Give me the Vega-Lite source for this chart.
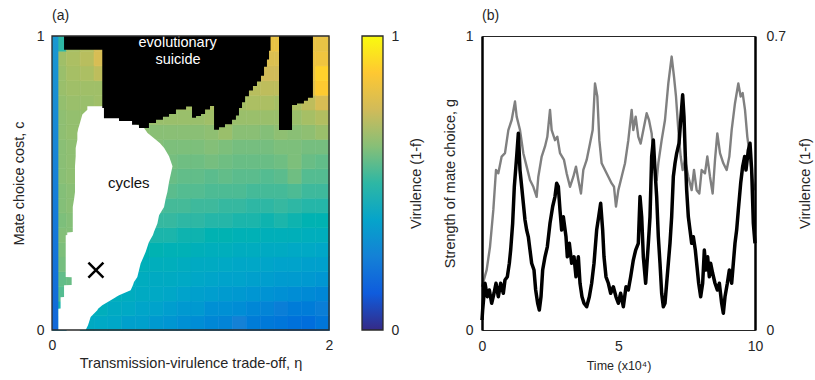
{
"$schema": "https://vega.github.io/schema/vega-lite/v6.json",
"padding": {"left": 11, "top": 8, "right": 2, "bottom": 2},
"config": {
 "font": "Liberation Sans",
 "view": {"stroke": null},
 "axis": {"labelFontSize": 14, "titleFontSize": 14.5, "labelColor": "#262626", "titleColor": "#262626", "titleFontWeight": "normal", "grid": false, "ticks": false, "domain": false, "labelFlush": false},
 "title": {"fontSize": 14, "fontWeight": "normal", "anchor": "start", "frame": "group", "color": "#262626"}
},
"datasets": {
 "cells": [
{"x":0,"y":0,"v":0.35},{"x":0.2,"y":0,"v":0.41},{"x":0.3,"y":0,"v":0.40},{"x":0.4,"y":0,"v":0.39},{"x":0.5,"y":0,"v":0.36},{"x":0.6,"y":0,"v":0.36},{"x":0.7,"y":0,"v":0.33},{"x":0.8,"y":0,"v":0.32},{"x":0.9,"y":0,"v":0.30},{"x":1.0,"y":0,"v":0.29},{"x":1.1,"y":0,"v":0.27},{"x":1.2,"y":0,"v":0.26},{"x":1.3,"y":0,"v":0.25},{"x":1.4,"y":0,"v":0.23},{"x":1.5,"y":0,"v":0.22},{"x":1.6,"y":0,"v":0.21},{"x":1.7,"y":0,"v":0.19},{"x":1.8,"y":0,"v":0.18},{"x":1.9,"y":0,"v":0.21},
{"x":0,"y":0.05,"v":0.48},{"x":0.2,"y":0.05,"v":0.42},{"x":0.3,"y":0.05,"v":0.43},{"x":0.4,"y":0.05,"v":0.41},{"x":0.5,"y":0.05,"v":0.40},{"x":0.6,"y":0.05,"v":0.38},{"x":0.7,"y":0.05,"v":0.37},{"x":0.8,"y":0.05,"v":0.35},{"x":0.9,"y":0.05,"v":0.33},{"x":1.0,"y":0.05,"v":0.33},{"x":1.1,"y":0.05,"v":0.30},{"x":1.2,"y":0.05,"v":0.30},{"x":1.3,"y":0.05,"v":0.29},{"x":1.4,"y":0.05,"v":0.27},{"x":1.5,"y":0.05,"v":0.26},{"x":1.6,"y":0.05,"v":0.24},{"x":1.7,"y":0.05,"v":0.23},{"x":1.8,"y":0.05,"v":0.23},{"x":1.9,"y":0.05,"v":0.24},
{"x":0,"y":0.1,"v":0.55},{"x":0.4,"y":0.1,"v":0.43},{"x":0.5,"y":0.1,"v":0.42},{"x":0.6,"y":0.1,"v":0.41},{"x":0.7,"y":0.1,"v":0.40},{"x":0.8,"y":0.1,"v":0.39},{"x":0.9,"y":0.1,"v":0.37},{"x":1.0,"y":0.1,"v":0.36},{"x":1.1,"y":0.1,"v":0.35},{"x":1.2,"y":0.1,"v":0.34},{"x":1.3,"y":0.1,"v":0.33},{"x":1.4,"y":0.1,"v":0.32},{"x":1.5,"y":0.1,"v":0.31},{"x":1.6,"y":0.1,"v":0.30},{"x":1.7,"y":0.1,"v":0.29},{"x":1.8,"y":0.1,"v":0.28},{"x":1.9,"y":0.1,"v":0.27},
{"x":0,"y":0.15,"v":0.57},{"x":0.1,"y":0.15,"v":0.58},{"x":0.5,"y":0.15,"v":0.43},{"x":0.6,"y":0.15,"v":0.42},{"x":0.7,"y":0.15,"v":0.41},{"x":0.8,"y":0.15,"v":0.41},{"x":0.9,"y":0.15,"v":0.40},{"x":1.0,"y":0.15,"v":0.39},{"x":1.1,"y":0.15,"v":0.38},{"x":1.2,"y":0.15,"v":0.37},{"x":1.3,"y":0.15,"v":0.37},{"x":1.4,"y":0.15,"v":0.36},{"x":1.5,"y":0.15,"v":0.35},{"x":1.6,"y":0.15,"v":0.34},{"x":1.7,"y":0.15,"v":0.34},{"x":1.8,"y":0.15,"v":0.33},{"x":1.9,"y":0.15,"v":0.32},
{"x":0,"y":0.2,"v":0.60},{"x":0.6,"y":0.2,"v":0.44},{"x":0.7,"y":0.2,"v":0.43},{"x":0.8,"y":0.2,"v":0.43},{"x":0.9,"y":0.2,"v":0.42},{"x":1.0,"y":0.2,"v":0.41},{"x":1.1,"y":0.2,"v":0.41},{"x":1.2,"y":0.2,"v":0.40},{"x":1.3,"y":0.2,"v":0.39},{"x":1.4,"y":0.2,"v":0.39},{"x":1.5,"y":0.2,"v":0.38},{"x":1.6,"y":0.2,"v":0.37},{"x":1.7,"y":0.2,"v":0.37},{"x":1.8,"y":0.2,"v":0.36},{"x":1.9,"y":0.2,"v":0.36},
{"x":0,"y":0.25,"v":0.61},{"x":0.6,"y":0.25,"v":0.46},{"x":0.7,"y":0.25,"v":0.46},{"x":0.8,"y":0.25,"v":0.45},{"x":0.9,"y":0.25,"v":0.45},{"x":1.0,"y":0.25,"v":0.44},{"x":1.1,"y":0.25,"v":0.43},{"x":1.2,"y":0.25,"v":0.43},{"x":1.3,"y":0.25,"v":0.42},{"x":1.4,"y":0.25,"v":0.42},{"x":1.5,"y":0.25,"v":0.41},{"x":1.6,"y":0.25,"v":0.41},{"x":1.7,"y":0.25,"v":0.40},{"x":1.8,"y":0.25,"v":0.40},{"x":1.9,"y":0.25,"v":0.39},
{"x":0,"y":0.3,"v":0.62},{"x":0.1,"y":0.3,"v":0.62},{"x":0.7,"y":0.3,"v":0.48},{"x":0.8,"y":0.3,"v":0.48},{"x":0.9,"y":0.3,"v":0.47},{"x":1.0,"y":0.3,"v":0.47},{"x":1.1,"y":0.3,"v":0.46},{"x":1.2,"y":0.3,"v":0.46},{"x":1.3,"y":0.3,"v":0.45},{"x":1.4,"y":0.3,"v":0.45},{"x":1.5,"y":0.3,"v":0.44},{"x":1.6,"y":0.3,"v":0.44},{"x":1.7,"y":0.3,"v":0.44},{"x":1.8,"y":0.3,"v":0.43},{"x":1.9,"y":0.3,"v":0.43},
{"x":0,"y":0.35,"v":0.61},{"x":0.1,"y":0.35,"v":0.62},{"x":0.7,"y":0.35,"v":0.51},{"x":0.8,"y":0.35,"v":0.51},{"x":0.9,"y":0.35,"v":0.50},{"x":1.0,"y":0.35,"v":0.50},{"x":1.1,"y":0.35,"v":0.49},{"x":1.2,"y":0.35,"v":0.49},{"x":1.3,"y":0.35,"v":0.48},{"x":1.4,"y":0.35,"v":0.48},{"x":1.5,"y":0.35,"v":0.47},{"x":1.6,"y":0.35,"v":0.48},{"x":1.7,"y":0.35,"v":0.47},{"x":1.8,"y":0.35,"v":0.46},{"x":1.9,"y":0.35,"v":0.46},
{"x":0,"y":0.4,"v":0.62},{"x":0.1,"y":0.4,"v":0.63},{"x":0.7,"y":0.4,"v":0.54},{"x":0.8,"y":0.4,"v":0.53},{"x":0.9,"y":0.4,"v":0.53},{"x":1.0,"y":0.4,"v":0.52},{"x":1.1,"y":0.4,"v":0.52},{"x":1.2,"y":0.4,"v":0.51},{"x":1.3,"y":0.4,"v":0.51},{"x":1.4,"y":0.4,"v":0.50},{"x":1.5,"y":0.4,"v":0.50},{"x":1.6,"y":0.4,"v":0.51},{"x":1.7,"y":0.4,"v":0.50},{"x":1.8,"y":0.4,"v":0.49},{"x":1.9,"y":0.4,"v":0.49},
{"x":0,"y":0.45,"v":0.62},{"x":0.1,"y":0.45,"v":0.63},{"x":0.8,"y":0.45,"v":0.56},{"x":0.9,"y":0.45,"v":0.55},{"x":1.0,"y":0.45,"v":0.55},{"x":1.1,"y":0.45,"v":0.54},{"x":1.2,"y":0.45,"v":0.54},{"x":1.3,"y":0.45,"v":0.54},{"x":1.4,"y":0.45,"v":0.53},{"x":1.5,"y":0.45,"v":0.53},{"x":1.6,"y":0.45,"v":0.53},{"x":1.7,"y":0.45,"v":0.54},{"x":1.8,"y":0.45,"v":0.52},{"x":1.9,"y":0.45,"v":0.52},
{"x":0,"y":0.5,"v":0.63},{"x":0.1,"y":0.5,"v":0.64},{"x":0.8,"y":0.5,"v":0.58},{"x":0.9,"y":0.5,"v":0.57},{"x":1.0,"y":0.5,"v":0.57},{"x":1.1,"y":0.5,"v":0.56},{"x":1.2,"y":0.5,"v":0.57},{"x":1.3,"y":0.5,"v":0.56},{"x":1.4,"y":0.5,"v":0.56},{"x":1.5,"y":0.5,"v":0.55},{"x":1.6,"y":0.5,"v":0.56},{"x":1.7,"y":0.5,"v":0.59},{"x":1.8,"y":0.5,"v":0.55},{"x":1.9,"y":0.5,"v":0.55},
{"x":0,"y":0.55,"v":0.63},{"x":0.1,"y":0.55,"v":0.64},{"x":0.8,"y":0.55,"v":0.60},{"x":0.9,"y":0.55,"v":0.59},{"x":1.0,"y":0.55,"v":0.59},{"x":1.1,"y":0.55,"v":0.60},{"x":1.2,"y":0.55,"v":0.59},{"x":1.3,"y":0.55,"v":0.58},{"x":1.4,"y":0.55,"v":0.58},{"x":1.5,"y":0.55,"v":0.58},{"x":1.6,"y":0.55,"v":0.59},{"x":1.7,"y":0.55,"v":0.61},{"x":1.8,"y":0.55,"v":0.58},{"x":1.9,"y":0.55,"v":0.57},
{"x":0,"y":0.6,"v":0.63},{"x":0.1,"y":0.6,"v":0.64},{"x":0.7,"y":0.6,"v":0.62},{"x":0.8,"y":0.6,"v":0.61},{"x":0.9,"y":0.6,"v":0.61},{"x":1.0,"y":0.6,"v":0.61},{"x":1.1,"y":0.6,"v":0.62},{"x":1.2,"y":0.6,"v":0.61},{"x":1.3,"y":0.6,"v":0.60},{"x":1.4,"y":0.6,"v":0.60},{"x":1.5,"y":0.6,"v":0.60},{"x":1.6,"y":0.6,"v":0.61},{"x":1.7,"y":0.6,"v":0.61},{"x":1.8,"y":0.6,"v":0.60},{"x":1.9,"y":0.6,"v":0.60},
{"x":0,"y":0.65,"v":0.64},{"x":0.1,"y":0.65,"v":0.65},{"x":0.6,"y":0.65,"v":0.64},{"x":0.7,"y":0.65,"v":0.63},{"x":0.8,"y":0.65,"v":0.63},{"x":0.9,"y":0.65,"v":0.63},{"x":1.0,"y":0.65,"v":0.63},{"x":1.1,"y":0.65,"v":0.64},{"x":1.2,"y":0.65,"v":0.66},{"x":1.3,"y":0.65,"v":0.63},{"x":1.4,"y":0.65,"v":0.63},{"x":1.5,"y":0.65,"v":0.62},{"x":1.6,"y":0.65,"v":0.64},{"x":1.7,"y":0.65,"v":0.63},{"x":1.8,"y":0.65,"v":0.64},{"x":1.9,"y":0.65,"v":0.66},
{"x":0,"y":0.7,"v":0.64},{"x":0.1,"y":0.7,"v":0.65},{"x":0.2,"y":0.7,"v":0.65},{"x":0.6,"y":0.7,"v":0.65},{"x":0.7,"y":0.7,"v":0.66},{"x":0.8,"y":0.7,"v":0.66},{"x":0.9,"y":0.7,"v":0.66},{"x":1.0,"y":0.7,"v":0.66},{"x":1.1,"y":0.7,"v":0.67},{"x":1.2,"y":0.7,"v":0.68},{"x":1.3,"y":0.7,"v":0.66},{"x":1.4,"y":0.7,"v":0.66},{"x":1.5,"y":0.7,"v":0.66},{"x":1.6,"y":0.7,"v":0.66},{"x":1.7,"y":0.7,"v":0.66},{"x":1.8,"y":0.7,"v":0.68},{"x":1.9,"y":0.7,"v":0.70},
{"x":0,"y":0.75,"v":0.65},{"x":0.1,"y":0.75,"v":0.66},{"x":0.2,"y":0.75,"v":0.66},{"x":0.3,"y":0.75,"v":0.67},{"x":0.4,"y":0.75,"v":0.67},{"x":0.5,"y":0.75,"v":0.67},{"x":0.6,"y":0.75,"v":0.67},{"x":0.7,"y":0.75,"v":0.68},{"x":0.8,"y":0.75,"v":0.68},{"x":0.9,"y":0.75,"v":0.68},{"x":1.0,"y":0.75,"v":0.68},{"x":1.1,"y":0.75,"v":0.69},{"x":1.2,"y":0.75,"v":0.69},{"x":1.3,"y":0.75,"v":0.68},{"x":1.4,"y":0.75,"v":0.69},{"x":1.5,"y":0.75,"v":0.69},{"x":1.6,"y":0.75,"v":0.68},{"x":1.7,"y":0.75,"v":0.69},{"x":1.8,"y":0.75,"v":0.72},{"x":1.9,"y":0.75,"v":0.77},
{"x":0,"y":0.8,"v":0.66},{"x":0.1,"y":0.8,"v":0.67},{"x":0.2,"y":0.8,"v":0.67},{"x":0.3,"y":0.8,"v":0.67},{"x":1.4,"y":0.8,"v":0.71},{"x":1.5,"y":0.8,"v":0.72},{"x":1.6,"y":0.8,"v":0.72},{"x":1.8,"y":0.8,"v":0.80},{"x":1.9,"y":0.8,"v":0.88},
{"x":0,"y":0.85,"v":0.66},{"x":0.1,"y":0.85,"v":0.68},{"x":0.2,"y":0.85,"v":0.69},{"x":0.3,"y":0.85,"v":0.72},{"x":1.5,"y":0.85,"v":0.75},{"x":1.6,"y":0.85,"v":0.75},{"x":1.8,"y":0.85,"v":0.82},{"x":1.9,"y":0.85,"v":0.90},
{"x":0,"y":0.9,"v":0.67},{"x":0.1,"y":0.9,"v":0.69},{"x":0.2,"y":0.9,"v":0.71},{"x":0.3,"y":0.9,"v":0.77},{"x":1.5,"y":0.9,"v":0.78},{"x":1.6,"y":0.9,"v":0.78},{"x":1.8,"y":0.9,"v":0.83},{"x":1.9,"y":0.9,"v":0.84},
{"x":0,"y":0.95,"v":0.50},{"x":0.1,"y":0.95,"v":0.68},{"x":0.2,"y":0.95,"v":0.70},{"x":0.3,"y":0.95,"v":0.76},{"x":1.5,"y":0.95,"v":0.82},{"x":1.6,"y":0.95,"v":0.82},{"x":1.8,"y":0.95,"v":0.82},{"x":1.9,"y":0.95,"v":0.82}
 ],
 "black": [
{"x":0,"y":1},{"x":0.087,"y":0.953},{"x":0.363,"y":0.755},{"x":0.375,"y":0.72},{"x":0.484,"y":0.711},{"x":0.578,"y":0.698},{"x":0.628,"y":0.687},{"x":0.70,"y":0.704},{"x":0.751,"y":0.715},{"x":0.801,"y":0.725},{"x":0.845,"y":0.735},{"x":0.895,"y":0.75},{"x":0.968,"y":0.76},{"x":1.011,"y":0.722},{"x":1.04,"y":0.728},{"x":1.076,"y":0.735},{"x":1.105,"y":0.75},{"x":1.141,"y":0.762},{"x":1.17,"y":0.681},{"x":1.206,"y":0.69},{"x":1.249,"y":0.70},{"x":1.30,"y":0.715},{"x":1.328,"y":0.73},{"x":1.35,"y":0.755},{"x":1.372,"y":0.775},{"x":1.394,"y":0.795},{"x":1.422,"y":0.815},{"x":1.451,"y":0.83},{"x":1.48,"y":0.845},{"x":1.509,"y":0.865},{"x":1.531,"y":0.895},{"x":1.552,"y":0.92},{"x":1.567,"y":0.95},{"x":1.578,"y":1},{"x":1.639,"y":0.68},{"x":1.733,"y":0.765},{"x":1.769,"y":0.77},{"x":1.819,"y":0.78},{"x":1.848,"y":0.79},{"x":1.884,"y":1},{"x":2,"y":1}
 ],
 "white": [
{"y":0,"x":0.046,"x2":0.243},{"y":0.016,"x":0.046,"x2":0.26},{"y":0.044,"x":0.046,"x2":0.279},{"y":0.067,"x":0.046,"x2":0.327},{"y":0.072,"x":0.046,"x2":0.333},{"y":0.073,"x":0.062,"x2":0.335},{"y":0.084,"x":0.062,"x2":0.363},{"y":0.101,"x":0.062,"x2":0.424},{"y":0.111,"x":0.062,"x2":0.46},{"y":0.112,"x":0.087,"x2":0.462},{"y":0.118,"x":0.087,"x2":0.484},{"y":0.135,"x":0.087,"x2":0.568},{"y":0.152,"x":0.087,"x2":0.584},{"y":0.153,"x":0.142,"x2":0.585},{"y":0.163,"x":0.142,"x2":0.592},{"y":0.179,"x":0.142,"x2":0.615},{"y":0.18,"x":0.099,"x2":0.616},{"y":0.226,"x":0.099,"x2":0.64},{"y":0.265,"x":0.099,"x2":0.676},{"y":0.299,"x":0.099,"x2":0.70},{"y":0.322,"x":0.099,"x2":0.728},{"y":0.323,"x":0.11,"x2":0.729},{"y":0.332,"x":0.11,"x2":0.735},{"y":0.333,"x":0.15,"x2":0.736},{"y":0.362,"x":0.15,"x2":0.761},{"y":0.39,"x":0.15,"x2":0.773},{"y":0.418,"x":0.15,"x2":0.809},{"y":0.447,"x":0.16,"x2":0.821},{"y":0.469,"x":0.166,"x2":0.833},{"y":0.503,"x":0.166,"x2":0.845},{"y":0.557,"x":0.166,"x2":0.87},{"y":0.591,"x":0.171,"x2":0.845},{"y":0.619,"x":0.171,"x2":0.81},{"y":0.635,"x":0.178,"x2":0.78},{"y":0.647,"x":0.183,"x2":0.75},{"y":0.67,"x":0.183,"x2":0.69},{"y":0.686,"x":0.19,"x2":0.666},{"y":0.693,"x":0.195,"x2":0.64},{"y":0.713,"x":0.207,"x2":0.55},{"y":0.733,"x":0.219,"x2":0.45},{"y":0.749,"x":0.255,"x2":0.40},{"y":0.761,"x":0.255,"x2":0.375}
 ],
 "gline": [
{"t":0,"g":0.034},{"t":0.024,"g":0.068},{"t":0.11,"g":0.159},{"t":0.195,"g":0.113},{"t":0.269,"g":0.136},{"t":0.354,"g":0.091},{"t":0.44,"g":0.125},{"t":0.513,"g":0.159},{"t":0.598,"g":0.113},{"t":0.684,"g":0.159},{"t":0.781,"g":0.125},{"t":0.842,"g":0.17},{"t":0.928,"g":0.181},{"t":1.001,"g":0.227},{"t":1.05,"g":0.272},{"t":1.123,"g":0.363},{"t":1.184,"g":0.488},{"t":1.27,"g":0.59},{"t":1.331,"g":0.669},{"t":1.392,"g":0.544},{"t":1.453,"g":0.488},{"t":1.514,"g":0.431},{"t":1.575,"g":0.374},{"t":1.636,"g":0.34},{"t":1.697,"g":0.317},{"t":1.758,"g":0.272},{"t":1.819,"g":0.227},{"t":1.905,"g":0.204},{"t":1.966,"g":0.136},{"t":2.039,"g":0.091},{"t":2.1,"g":0.068},{"t":2.161,"g":0.113},{"t":2.222,"g":0.204},{"t":2.308,"g":0.249},{"t":2.393,"g":0.283},{"t":2.491,"g":0.363},{"t":2.589,"g":0.42},{"t":2.674,"g":0.454},{"t":2.735,"g":0.499},{"t":2.796,"g":0.488},{"t":2.857,"g":0.408},{"t":2.918,"g":0.34},{"t":2.979,"g":0.385},{"t":3.077,"g":0.317},{"t":3.126,"g":0.249},{"t":3.199,"g":0.295},{"t":3.284,"g":0.227},{"t":3.37,"g":0.249},{"t":3.443,"g":0.181},{"t":3.529,"g":0.249},{"t":3.59,"g":0.159},{"t":3.663,"g":0.113},{"t":3.736,"g":0.091},{"t":3.834,"g":0.079},{"t":3.932,"g":0.113},{"t":4.017,"g":0.159},{"t":4.103,"g":0.227},{"t":4.2,"g":0.34},{"t":4.274,"g":0.385},{"t":4.347,"g":0.431},{"t":4.42,"g":0.34},{"t":4.469,"g":0.249},{"t":4.542,"g":0.181},{"t":4.628,"g":0.159},{"t":4.713,"g":0.125},{"t":4.811,"g":0.147},{"t":4.908,"g":0.113},{"t":4.994,"g":0.091},{"t":5.079,"g":0.125},{"t":5.177,"g":0.079},{"t":5.275,"g":0.147},{"t":5.36,"g":0.136},{"t":5.446,"g":0.181},{"t":5.543,"g":0.238},{"t":5.629,"g":0.272},{"t":5.726,"g":0.295},{"t":5.788,"g":0.454},{"t":5.849,"g":0.385},{"t":5.91,"g":0.249},{"t":5.995,"g":0.159},{"t":6.093,"g":0.295},{"t":6.154,"g":0.385},{"t":6.215,"g":0.59},{"t":6.276,"g":0.646},{"t":6.337,"g":0.544},{"t":6.398,"g":0.454},{"t":6.459,"g":0.317},{"t":6.52,"g":0.227},{"t":6.581,"g":0.125},{"t":6.642,"g":0.079},{"t":6.703,"g":0.091},{"t":6.764,"g":0.159},{"t":6.825,"g":0.227},{"t":6.886,"g":0.295},{"t":6.947,"g":0.385},{"t":7.009,"g":0.522},{"t":7.07,"g":0.567},{"t":7.131,"g":0.601},{"t":7.216,"g":0.635},{"t":7.289,"g":0.726},{"t":7.35,"g":0.8},{"t":7.399,"g":0.726},{"t":7.448,"g":0.59},{"t":7.497,"g":0.476},{"t":7.558,"g":0.385},{"t":7.619,"g":0.34},{"t":7.68,"g":0.295},{"t":7.741,"g":0.317},{"t":7.814,"g":0.272},{"t":7.863,"g":0.227},{"t":7.937,"g":0.159},{"t":8.01,"g":0.113},{"t":8.083,"g":0.159},{"t":8.144,"g":0.272},{"t":8.205,"g":0.204},{"t":8.266,"g":0.249},{"t":8.327,"g":0.181},{"t":8.376,"g":0.227},{"t":8.449,"g":0.193},{"t":8.535,"g":0.159},{"t":8.62,"g":0.136},{"t":8.694,"g":0.159},{"t":8.779,"g":0.091},{"t":8.84,"g":0.057},{"t":8.901,"g":0.113},{"t":8.987,"g":0.159},{"t":9.06,"g":0.204},{"t":9.145,"g":0.159},{"t":9.206,"g":0.227},{"t":9.267,"g":0.295},{"t":9.328,"g":0.34},{"t":9.389,"g":0.408},{"t":9.475,"g":0.499},{"t":9.548,"g":0.556},{"t":9.621,"g":0.59},{"t":9.67,"g":0.544},{"t":9.756,"g":0.612},{"t":9.817,"g":0.635},{"t":9.878,"g":0.544},{"t":9.939,"g":0.363},{"t":10,"g":0.295}
 ],
 "vline": [
{"t":0,"v":0.103},{"t":0.171,"v":0.143},{"t":0.293,"v":0.198},{"t":0.415,"v":0.286},{"t":0.513,"v":0.381},{"t":0.598,"v":0.373},{"t":0.72,"v":0.413},{"t":0.842,"v":0.421},{"t":0.965,"v":0.476},{"t":1.087,"v":0.5},{"t":1.209,"v":0.544},{"t":1.27,"v":0.508},{"t":1.392,"v":0.476},{"t":1.514,"v":0.421},{"t":1.636,"v":0.389},{"t":1.758,"v":0.357},{"t":1.88,"v":0.341},{"t":2.002,"v":0.317},{"t":2.063,"v":0.365},{"t":2.186,"v":0.413},{"t":2.308,"v":0.437},{"t":2.393,"v":0.46},{"t":2.491,"v":0.524},{"t":2.552,"v":0.476},{"t":2.674,"v":0.452},{"t":2.759,"v":0.46},{"t":2.857,"v":0.421},{"t":3.004,"v":0.405},{"t":3.101,"v":0.373},{"t":3.223,"v":0.341},{"t":3.346,"v":0.365},{"t":3.443,"v":0.389},{"t":3.529,"v":0.357},{"t":3.626,"v":0.325},{"t":3.712,"v":0.381},{"t":3.834,"v":0.405},{"t":3.956,"v":0.444},{"t":4.054,"v":0.476},{"t":4.139,"v":0.587},{"t":4.225,"v":0.556},{"t":4.298,"v":0.452},{"t":4.383,"v":0.397},{"t":4.505,"v":0.381},{"t":4.628,"v":0.365},{"t":4.75,"v":0.349},{"t":4.835,"v":0.341},{"t":4.908,"v":0.294},{"t":4.994,"v":0.333},{"t":5.116,"v":0.365},{"t":5.238,"v":0.397},{"t":5.36,"v":0.452},{"t":5.482,"v":0.524},{"t":5.543,"v":0.476},{"t":5.629,"v":0.508},{"t":5.726,"v":0.46},{"t":5.812,"v":0.444},{"t":5.91,"v":0.476},{"t":6.032,"v":0.516},{"t":6.117,"v":0.5},{"t":6.215,"v":0.468},{"t":6.3,"v":0.397},{"t":6.398,"v":0.357},{"t":6.459,"v":0.397},{"t":6.581,"v":0.452},{"t":6.703,"v":0.5},{"t":6.825,"v":0.587},{"t":6.947,"v":0.651},{"t":7.033,"v":0.603},{"t":7.106,"v":0.556},{"t":7.192,"v":0.476},{"t":7.277,"v":0.413},{"t":7.35,"v":0.381},{"t":7.436,"v":0.405},{"t":7.558,"v":0.365},{"t":7.68,"v":0.333},{"t":7.766,"v":0.381},{"t":7.863,"v":0.333},{"t":7.961,"v":0.325},{"t":8.046,"v":0.381},{"t":8.168,"v":0.373},{"t":8.254,"v":0.413},{"t":8.352,"v":0.365},{"t":8.449,"v":0.325},{"t":8.535,"v":0.405},{"t":8.62,"v":0.468},{"t":8.718,"v":0.421},{"t":8.84,"v":0.397},{"t":8.962,"v":0.381},{"t":9.06,"v":0.413},{"t":9.145,"v":0.476},{"t":9.267,"v":0.54},{"t":9.389,"v":0.587},{"t":9.475,"v":0.556},{"t":9.548,"v":0.564},{"t":9.634,"v":0.524},{"t":9.719,"v":0.46},{"t":9.817,"v":0.413},{"t":9.914,"v":0.357},{"t":10,"v":0.333}
 ]
},
"hconcat": [
 {
  "spacing": 28,
  "hconcat": [
   {
    "title": {"text": "(a)", "offset": 6},
    "width": 277, "height": 294,
    "layer": [
     {
      "data": {"name": "cells"},
      "mark": {"type": "rect", "strokeWidth": 0.6},
      "encoding": {
       "x": {"field": "x", "type": "quantitative", "bin": {"binned": true, "step": 0.1}, "scale": {"domain": [0, 2], "nice": false}, "axis": {"values": [0, 2], "format": "d", "title": "Transmission-virulence trade-off, η", "labelPadding": 8, "titlePadding": 4}},
       "y": {"field": "y", "type": "quantitative", "bin": {"binned": true, "step": 0.05}, "scale": {"domain": [0, 1], "nice": false}, "axis": {"values": [0, 1], "format": "d", "title": "Mate choice cost, c", "labelPadding": 8, "titlePadding": 10}},
       "color": {"field": "v", "type": "quantitative", "legend": null, "scale": {"domain": [0, 0.125, 0.25, 0.375, 0.5, 0.625, 0.75, 0.875, 1], "range": ["#352a87", "#0f5cdd", "#1481d6", "#06a4ca", "#2eb7a4", "#87bf77", "#d1bb59", "#fec832", "#f9fb0e"]}},
       "stroke": {"field": "v", "type": "quantitative", "legend": null, "scale": {"domain": [0, 0.125, 0.25, 0.375, 0.5, 0.625, 0.75, 0.875, 1], "range": ["#352a87", "#0f5cdd", "#1481d6", "#06a4ca", "#2eb7a4", "#87bf77", "#d1bb59", "#fec832", "#f9fb0e"]}}
      }
     },
     {
      "data": {"values": [{"x": 0, "x2": 0.046, "y": 0, "y2": 1}]},
      "mark": {"type": "rect", "fill": {"gradient": "linear", "x1": 0, "y1": 1, "x2": 0, "y2": 0, "stops": [{"offset": 0, "color": "#1168d9"}, {"offset": 0.5, "color": "#1680d8"}, {"offset": 1, "color": "#1a98d0"}]}},
      "encoding": {
       "x": {"field": "x", "type": "quantitative", "scale": {"domain": [0, 2]}},
       "x2": {"field": "x2"},
       "y": {"field": "y", "type": "quantitative", "scale": {"domain": [0, 1]}},
       "y2": {"field": "y2"}
      }
     },
     {
      "data": {"name": "white"},
      "mark": {"type": "area", "color": "white", "orient": "horizontal"},
      "encoding": {
       "y": {"field": "y", "type": "quantitative", "scale": {"domain": [0, 1]}},
       "x": {"field": "x", "type": "quantitative", "scale": {"domain": [0, 2]}},
       "x2": {"field": "x2"}
      }
     },
     {
      "data": {"name": "black"},
      "mark": {"type": "area", "color": "black", "interpolate": "step-after"},
      "encoding": {
       "x": {"field": "x", "type": "quantitative", "scale": {"domain": [0, 2]}},
       "y": {"field": "y", "type": "quantitative", "scale": {"domain": [0, 1]}},
       "y2": {"datum": 1}
      }
     },
     {
      "data": {"values": [{"x": 0.907, "y": 0.975, "label": "evolutionary"}, {"x": 0.91, "y": 0.92, "label": "suicide"}]},
      "mark": {"type": "text", "color": "white", "fontSize": 14.5, "baseline": "middle"},
      "encoding": {
       "x": {"field": "x", "type": "quantitative", "scale": {"domain": [0, 2]}},
       "y": {"field": "y", "type": "quantitative", "scale": {"domain": [0, 1]}},
       "text": {"field": "label"}
      }
     },
     {
      "data": {"values": [{"x": 0.554, "y": 0.501, "label": "cycles"}]},
      "mark": {"type": "text", "color": "#111111", "fontSize": 15, "baseline": "middle"},
      "encoding": {
       "x": {"field": "x", "type": "quantitative", "scale": {"domain": [0, 2]}},
       "y": {"field": "y", "type": "quantitative", "scale": {"domain": [0, 1]}},
       "text": {"field": "label"}
      }
     },
     {
      "data": {"values": [{"x": 0.317, "y": 0.204}]},
      "mark": {"type": "point", "shape": "M-1,-1L1,1M1,-1L-1,1", "size": 225, "filled": false, "color": "black", "strokeWidth": 2.5, "opacity": 1},
      "encoding": {
       "x": {"field": "x", "type": "quantitative", "scale": {"domain": [0, 2]}},
       "y": {"field": "y", "type": "quantitative", "scale": {"domain": [0, 1]}}
      }
     },
     {
      "data": {"values": [{"x": 0, "x2": 2, "y": 0, "y2": 1}]},
      "mark": {"type": "rect", "fill": "transparent", "stroke": "#2a2a2a", "strokeWidth": 1.3},
      "encoding": {
       "x": {"field": "x", "type": "quantitative", "scale": {"domain": [0, 2]}},
       "x2": {"field": "x2"},
       "y": {"field": "y", "type": "quantitative", "scale": {"domain": [0, 1]}},
       "y2": {"field": "y2"}
      }
     }
    ]
   },
   {
    "width": 21, "height": 294,
    "data": {"values": [{"lo": 0, "hi": 1}]},
    "mark": {"type": "rect", "stroke": "#2a2a2a", "strokeWidth": 1.3, "fill": {"gradient": "linear", "x1": 0, "y1": 1, "x2": 0, "y2": 0, "stops": [{"offset": 0, "color": "#352a87"}, {"offset": 0.125, "color": "#0f5cdd"}, {"offset": 0.25, "color": "#1481d6"}, {"offset": 0.375, "color": "#06a4ca"}, {"offset": 0.5, "color": "#2eb7a4"}, {"offset": 0.625, "color": "#87bf77"}, {"offset": 0.75, "color": "#d1bb59"}, {"offset": 0.875, "color": "#fec832"}, {"offset": 1, "color": "#f9fb0e"}]}},
    "encoding": {
     "y": {"field": "lo", "type": "quantitative", "scale": {"domain": [0, 1]}, "axis": {"orient": "right", "values": [0, 1], "format": "d", "title": "Virulence (1-f)", "titleAngle": 270, "labelPadding": 8, "titlePadding": 25}},
     "y2": {"field": "hi"}
    }
   }
  ]
 },
 {
  "title": {"text": "(b)", "offset": 6},
  "width": 273, "height": 294,
  "view": {"stroke": "#262626", "strokeWidth": 1},
  "layer": [
   {
    "data": {"name": "vline"},
    "mark": {"type": "line", "color": "#808080", "strokeWidth": 2.4, "strokeJoin": "round"},
    "encoding": {
     "x": {"field": "t", "type": "quantitative", "scale": {"domain": [0, 10]}, "axis": {"values": [0, 5, 10], "title": "Time (x10⁴)", "titleFontSize": 12.5, "labelPadding": 9, "titlePadding": 6}},
     "y": {"field": "v", "type": "quantitative", "scale": {"domain": [0, 0.7]}, "axis": {"orient": "right", "values": [0, 0.7], "labelExpr": "datum.value == 0 ? '0' : datum.label", "title": "Virulence (1-f)", "titleAngle": 270, "labelPadding": 11, "titlePadding": 27, "domain": true, "domainColor": "black", "domainWidth": 2.5, "zindex": 1}}
    }
   },
   {
    "data": {"name": "gline"},
    "mark": {"type": "line", "color": "black", "strokeWidth": 3.5, "strokeJoin": "round"},
    "encoding": {
     "x": {"field": "t", "type": "quantitative", "scale": {"domain": [0, 10]}},
     "y": {"field": "g", "type": "quantitative", "scale": {"domain": [0, 1]}, "axis": {"orient": "left", "values": [0, 1], "format": "d", "title": "Strength of mate choice, g", "labelPadding": 9, "titlePadding": 8, "domain": true, "domainColor": "black", "domainWidth": 2.5, "zindex": 1}}
    }
   }
  ],
  "resolve": {"scale": {"y": "independent"}}
 }
],
"spacing": 17
}
